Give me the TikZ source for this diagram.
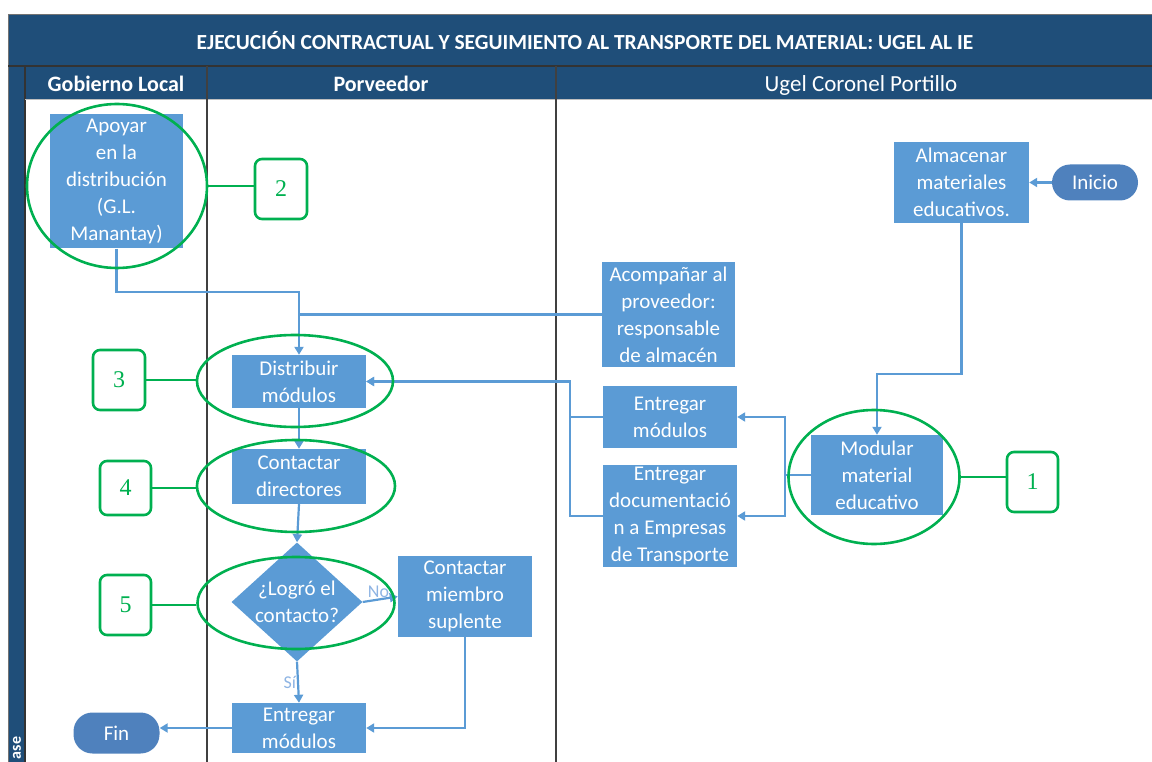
\documentclass[tikz,border=0pt]{standalone}
\usepackage{fontspec}
\setmainfont{Carlito}
\newfontfamily\numfont{Liberation Serif}
\usetikzlibrary{shapes.geometric,arrows.meta}
\definecolor{navy}{HTML}{1F4E79}
\definecolor{boxblue}{HTML}{5B9BD5}
\definecolor{termblue}{HTML}{4F81BD}
\definecolor{lineblue}{HTML}{5B9BD5}
\definecolor{mkgreen}{HTML}{00B050}
\definecolor{lanegray}{HTML}{404040}
\definecolor{lbltext}{HTML}{8EB4E3}
\begin{document}
\begin{tikzpicture}[x=1pt,y=-1pt,
  proc/.style={rectangle, fill=boxblue, text=white, font=\fontsize{21}{27}\selectfont, align=center, inner sep=0pt},
  term/.style={rectangle, rounded corners=19pt, fill=termblue, text=white, font=\fontsize{21}{27}\selectfont, inner sep=0pt},
  flow/.style={draw=lineblue, line width=2.2pt, -{Triangle[length=8pt,width=9pt]}},
  plain/.style={draw=lineblue, line width=2.2pt},
  hilite/.style={ellipse, draw=mkgreen, line width=2.6pt, inner sep=0pt},
  numbox/.style={rectangle, draw=mkgreen, line width=2.6pt, rounded corners=7pt, text=mkgreen, font=\numfont\fontsize{24}{24}\selectfont, inner sep=0pt},
  glink/.style={draw=mkgreen, line width=2.6pt},
  hdr/.style={text=white, font=\fontsize{22}{24}\selectfont},
  lbl/.style={text=lbltext, font=\fontsize{18}{20}\selectfont, inner sep=1pt}
]
\useasboundingbox (0,0) rectangle (1152,762);
% table frame
\fill[navy] (8,15) rectangle (1152,100);
\fill[navy] (8,15) rectangle (25,762);
\draw[black!55, line width=1pt] (8,15) -- (1152,15);
\draw[black!55, line width=1pt] (8,15) -- (8,762);
\draw[black!80, line width=1.6pt] (8,66) -- (1152,66);
\draw[black!80, line width=1.6pt] (25,66) -- (25,762);
\draw[black!25, line width=1pt] (25,100) -- (1152,100);
\draw[lanegray, line width=2.2pt] (207,66) -- (207,762);
\draw[lanegray, line width=2.2pt] (556,66) -- (556,762);
\node[hdr, font=\bfseries\fontsize{21.5}{24}\selectfont] (title) at (585,41) {EJECUCIÓN CONTRACTUAL Y SEGUIMIENTO AL TRANSPORTE DEL MATERIAL: UGEL AL IE};
\node[hdr, font=\bfseries\fontsize{22}{24}\selectfont] (h1) at (116,84) {Gobierno Local};
\node[hdr, font=\bfseries\fontsize{22}{24}\selectfont] (h2) at (381,84) {Porveedor};
\node[hdr, font=\fontsize{23}{24}\selectfont] (h3) at (861,85) {Ugel Coronel Portillo};
\node[hdr, rotate=90, font=\bfseries\fontsize{16}{18}\selectfont] (fase) at (17,748) {ase};

% process nodes
\node[proc, minimum width=133pt, minimum height=134pt] (apoyar) at (116.5,181.5) {Apoyar\\en la\\distribución\\(G.L.\\Manantay)};
\node[proc, minimum width=134pt, minimum height=53pt] (distrib) at (299,381.5) {Distribuir\\módulos};
\node[proc, minimum width=134pt, minimum height=55pt] (contact) at (299,476.5) {Contactar\\directores};
\node[diamond, fill=boxblue, minimum width=131pt, minimum height=119pt, inner sep=0pt] (dec) at (297,602) {};
\node[text=white, font=\fontsize{21}{27}\selectfont, align=center, inner sep=0pt] (dectext) at (297,602) {¿Logró el\\contacto?};
\node[proc, minimum width=134pt, minimum height=81pt] (miembro) at (465,596.5) {Contactar\\miembro\\suplente};
\node[proc, minimum width=134pt, minimum height=50pt] (entb) at (299,728) {Entregar\\módulos};
\node[term, minimum width=86pt, minimum height=41pt] (fin) at (116.5,733) {Fin};
\node[proc, minimum width=133pt, minimum height=104pt] (acomp) at (668.5,314.5) {Acompañar al\\proveedor:\\responsable\\de almacén};
\node[proc, minimum width=135pt, minimum height=81pt] (almac) at (961.5,182.5) {Almacenar\\materiales\\educativos.};
\node[term, minimum width=86pt, minimum height=36pt, rounded corners=18pt] (inicio) at (1095,182.5) {Inicio};
\node[proc, minimum width=134pt, minimum height=62pt] (entm) at (670,417) {Entregar\\módulos};
\node[proc, minimum width=134pt, minimum height=102pt] (entd) at (670,516) {Entregar\\documentació\\n a Empresas\\de Transporte};
\node[proc, minimum width=132pt, minimum height=80pt] (modular) at (877,475) {Modular\\material\\educativo};

% connectors
\draw[flow] (inicio.west) -- (almac.east);
\draw[flow] (almac.south) -- ++(0,151) -| (modular.north);
\draw[flow] (modular.west) -- ++(-26,0) |- (entm.east);
\draw[flow] (modular.west) -- ++(-26,0) |- (entd.east);
\draw[flow] (entm.west) -- ++(-33,0) |- (distrib.east);
\draw[flow] (entd.west) -- ++(-33,0) |- (distrib.east);
\draw[plain] (acomp.west) -- (acomp.west -| distrib.north);
\draw[flow] (apoyar.south) -- ++(0,43.5) -| (distrib.north);
\draw[flow] (distrib.south) -- (contact.north);
\draw[flow] (contact.south) -- (dec.north);
\draw[flow] (dec.east) -- node[lbl, above, pos=0.45] (nolbl) {No} (miembro.west);
\draw[flow] (dec.south) -- node[lbl, left, pos=0.5] (silbl) {Sí} (entb.north);
\draw[flow] (miembro.south) |- (entb.east);
\draw[flow] (entb.west) -- (entb.west -| fin.east);

% green highlights
\node[hilite, minimum width=180pt, minimum height=164pt] (e2) at (117,186) {};
\node[hilite, minimum width=196pt, minimum height=92pt] (e3) at (295,381) {};
\node[hilite, minimum width=198pt, minimum height=92pt] (e4) at (296,486) {};
\node[hilite, minimum width=197pt, minimum height=92pt] (e5) at (296,603) {};
\node[hilite, minimum width=171pt, minimum height=134pt] (e1) at (874,477) {};
\node[numbox, minimum width=52pt, minimum height=60pt] (n2) at (281,189) {2};
\node[numbox, minimum width=52pt, minimum height=60pt] (n3) at (119,380) {3};
\node[numbox, minimum width=51pt, minimum height=54pt] (n4) at (125.5,488) {4};
\node[numbox, minimum width=51pt, minimum height=60pt] (n5) at (125.5,605) {5};
\node[numbox, minimum width=51pt, minimum height=60pt] (n1) at (1032.5,482) {1};
\draw[glink] (e2.east) -- (e2.east -| n2.west);
\draw[glink] (n3.east) -- (n3.east -| e3.west);
\draw[glink] (n4.east) -- (n4.east -| e4.west);
\draw[glink] (n5.east) -- (n5.east -| e5.west);
\draw[glink] (e1.east) -- (e1.east -| n1.west);
\end{tikzpicture}
\end{document}
